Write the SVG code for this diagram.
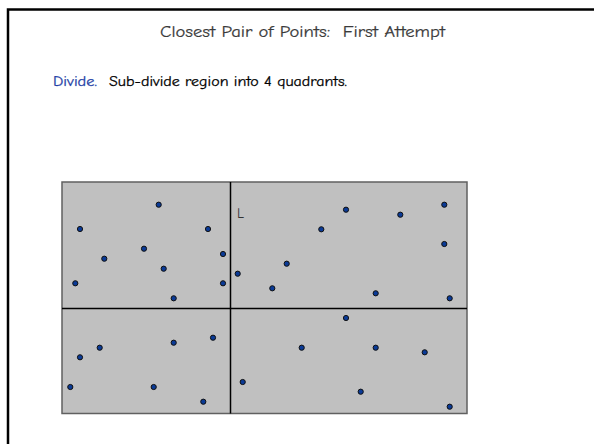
<svg xmlns="http://www.w3.org/2000/svg" width="594" height="444" viewBox="0 0 594 444">
<style>
.t{font-family:"Comic Sans MS","Comic Neue","DejaVu Sans",sans-serif}
.pt{fill:#0a3a96;stroke:#111;stroke-width:1}
.div{stroke:#000;stroke-width:1.5;fill:none}
</style>
<rect x="0" y="0" width="594" height="444" fill="#fff"/>
<path d="M8,444 V9.5 H594" fill="none" stroke="#000" stroke-width="2.5"/>
<g id="title"><text class="t" x="160" y="37" font-size="16" fill="#3a3a3a" stroke="#3a3a3a" stroke-width="0.2" textLength="285" lengthAdjust="spacingAndGlyphs" xml:space="preserve">Closest Pair of Points:  First Attempt</text></g>
<g id="divide-text">
<text class="t" x="53" y="86" font-size="14" fill="#1f3fa6" stroke="#1f3fa6" stroke-width="0.25" textLength="44" lengthAdjust="spacingAndGlyphs">Divide.</text>
<text class="t" x="109" y="86" font-size="14" fill="#000" stroke="#000" stroke-width="0.25" textLength="238" lengthAdjust="spacingAndGlyphs">Sub-divide region into 4 quadrants.</text>
</g>
<g id="region">
<rect x="62" y="182" width="405" height="231.5" fill="#c0c0c0" stroke="#606060" stroke-width="1.5"/>
<g class="connectors" id="lines">
<line class="div" x1="230.5" y1="182" x2="230.5" y2="413.5"/>
<line class="div" x1="62" y1="308.5" x2="467" y2="308.5"/>
</g>
<text class="t" x="237" y="218" font-size="14" fill="#333">L</text>
</g>
<g id="points">
<circle class="pt" cx="158.7" cy="204.7" r="2.6"/>
<circle class="pt" cx="80" cy="229" r="2.6"/>
<circle class="pt" cx="208" cy="229" r="2.6"/>
<circle class="pt" cx="144" cy="248.7" r="2.6"/>
<circle class="pt" cx="104.3" cy="258.7" r="2.6"/>
<circle class="pt" cx="223" cy="254" r="2.6"/>
<circle class="pt" cx="163.7" cy="268.7" r="2.6"/>
<circle class="pt" cx="75.3" cy="283.3" r="2.6"/>
<circle class="pt" cx="223" cy="283.3" r="2.6"/>
<circle class="pt" cx="173.7" cy="298.3" r="2.6"/>
<circle class="pt" cx="346" cy="209.7" r="2.6"/>
<circle class="pt" cx="400.3" cy="214.7" r="2.6"/>
<circle class="pt" cx="444.3" cy="204.7" r="2.6"/>
<circle class="pt" cx="321.3" cy="229.3" r="2.6"/>
<circle class="pt" cx="444.3" cy="244" r="2.6"/>
<circle class="pt" cx="286.7" cy="263.7" r="2.6"/>
<circle class="pt" cx="237.7" cy="273.7" r="2.6"/>
<circle class="pt" cx="272.3" cy="288.3" r="2.6"/>
<circle class="pt" cx="375.7" cy="293.3" r="2.6"/>
<circle class="pt" cx="449.7" cy="298.3" r="2.6"/>
<circle class="pt" cx="213" cy="337.7" r="2.6"/>
<circle class="pt" cx="173.7" cy="342.7" r="2.6"/>
<circle class="pt" cx="99.7" cy="347.7" r="2.6"/>
<circle class="pt" cx="80" cy="357.3" r="2.6"/>
<circle class="pt" cx="70.3" cy="387" r="2.6"/>
<circle class="pt" cx="153.7" cy="387" r="2.6"/>
<circle class="pt" cx="203.3" cy="401.7" r="2.6"/>
<circle class="pt" cx="346" cy="318" r="2.6"/>
<circle class="pt" cx="301.7" cy="347.7" r="2.6"/>
<circle class="pt" cx="375.7" cy="347.7" r="2.6"/>
<circle class="pt" cx="424.7" cy="352.3" r="2.6"/>
<circle class="pt" cx="242.7" cy="382" r="2.6"/>
<circle class="pt" cx="360.7" cy="391.7" r="2.6"/>
<circle class="pt" cx="449.7" cy="406.7" r="2.6"/>
</g>
</svg>
